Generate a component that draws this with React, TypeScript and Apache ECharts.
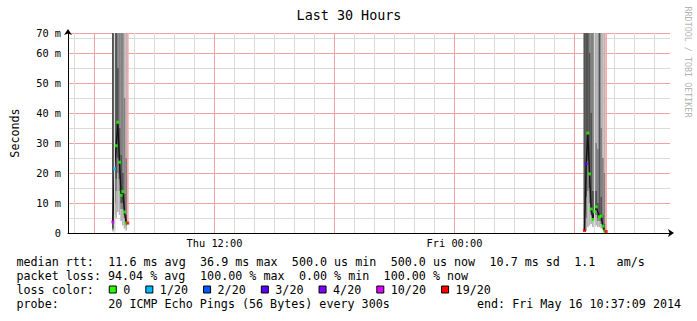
import React, { useEffect, useRef } from "react";
import * as echarts from "echarts";

const MONO = "'DejaVu Sans Mono', monospace";

const titleText = "Last 30 Hours";
const yAxisName = "Seconds";
const watermarkText = "RRDTOOL / TOBI OETIKER";

// time axis window
const axisStart = "Thu 04:40:30";
const axisEnd = "Fri 10:46:30";
const xLabelTimes = ["Thu 12:00", "Fri 00:00"];
const majorEveryHours = 6;

// y axis (milliseconds)
const yAxisMax = 66.67;
const yTickValues = [0, 10, 20, 30, 40, 50, 60, 66.67];
const yTickLabels = ["0", "10 m", "20 m", "30 m", "40 m", "50 m", "60 m", "70 m"];
const yMinorStep = 5;

// first burst (Thu morning)
const spike1Times = ["Thu 06:55", "Thu 07:00", "Thu 07:05", "Thu 07:10", "Thu 07:15", "Thu 07:20", "Thu 07:25", "Thu 07:30", "Thu 07:35", "Thu 07:40"];
const spike1Median = [3.7, 21.4, 29.1, 36.9, 23.6, 12.6, 13.8, 7.0, 3.3, 3.3];
const spike1Loss = [10, 1, 0, 0, 0, 0, 0, 0, 0, 19];
const spike1OuterLo = [0.5, 0.6, 5, 7, 6, 4, 2.5, 1.5, 0.8, null];
const spike1OuterHi = [140, 135, 130, 125, 120, 110, 100, 95, 90, null];
const spike1MidLo = [1.2, 6, 14, 20, 14, 8, 8, 5, 2.5, null];
const spike1MidHi = [130, 120, 110, 100, 95, 85, 80, 45, 25, null];
const spike1CoreLo = [1.5, 10, 18, 25, 18, 10, 10, 6, 3, null];
const spike1CoreHi = [120, 110, 100, 55, 35, 26, 20, 13, 6, null];

// second burst (Fri morning)
const spike2Times = ["Fri 06:30", "Fri 06:35", "Fri 06:40", "Fri 06:45", "Fri 06:50", "Fri 06:55", "Fri 07:00", "Fri 07:05", "Fri 07:10", "Fri 07:15", "Fri 07:20", "Fri 07:25", "Fri 07:30", "Fri 07:35"];
const spike2Median = [0.8, 23.1, 33.3, 19.7, 8.0, 4.5, 7.2, 8.7, null, 5.4, 5.6, 2.3, 0.6, 0.5];
const spike2Loss = [19, 3, 0, 0, 0, 0, 0, 0, null, 0, 0, 0, 0, 19];
const spike2OuterLo = [0.5, 0.6, 2, 2.5, 3, 2, 2, 2.5, 2, 2, 1.5, 1, 0.5, null];
const spike2OuterHi = [140, 135, 130, 125, 120, 115, 110, 105, 100, 100, 95, 90, 85, null];
const spike2MidLo = [0.6, 5, 14, 10, 6, 4, 5, 6, 4, 4, 3, 2, 0.8, null];
const spike2MidHi = [130, 125, 120, 110, 100, 90, 85, 30, 28, 90, 35, 25, 20, null];
const spike2CoreLo = [0.7, 12, 24, 15, 7, 4.5, 6, 7.5, 5, 5, 4, 2, 0.6, null];
const spike2CoreHi = [120, 110, 100, 60, 40, 14, 14, 14, 10, 70, 12, 6, 3, null];

// light red full-height stripes
const stripeTimes = ["Thu 07:40", "Fri 07:35"];
const stripeLo = [3.3, 0.5];
const stripeHi = [140, 140];

// loss colours
const lossLabels = ["0", "1/20", "2/20", "3/20", "4/20", "10/20", "19/20"];
const lossCounts = [0, 1, 2, 3, 4, 10, 19];
const lossColors = ["#26ff00", "#00b8ff", "#0059ff", "#5e00ff", "#7e00ff", "#dd00ff", "#ff0000"];

// legend texts
const legendRtt = "median rtt:  11.6 ms avg  36.9 ms max  500.0 us min  500.0 us now  10.7 ms sd  1.1   am/s";
const legendLoss = "packet loss: 94.04 % avg  100.00 % max  0.00 % min  100.00 % now";
const legendLossTitle = "loss color:";
const legendProbe = "probe:       20 ICMP Echo Pings (56 Bytes) every 300s";
const legendEnd = "end: Fri May 16 10:37:09 2014";

const DAY_OFFSET: Record<string, number> = { Thu: 0, Fri: 24 };
function toHours(s: string): number {
  const [d, hms] = s.split(" ");
  const parts = hms.split(":").map(Number);
  return DAY_OFFSET[d] + parts[0] + parts[1] / 60 + (parts[2] || 0) / 3600;
}

const STEP = 5 / 60;
const MAJOR_COLOR = "#f4a0a0";
const MINOR_COLOR = "#dadada";
const CHAR_W = 7.06;
const LEG_FONT = 11.7;
const AXIS_FONT = 10.3;

function bandData(times: string[], lo: (number | null)[], hi: (number | null)[]) {
  const out: number[][] = [];
  times.forEach((t, i) => {
    if (lo[i] == null || hi[i] == null) return;
    out.push([toHours(t), lo[i] as number, hi[i] as number]);
  });
  return out;
}

function bandLayer(name: string, data: number[][], color: string, z: number) {
  return {
    type: "custom",
    name,
    z,
    silent: true,
    clip: true,
    data,
    encode: { x: 0, y: [1, 2] },
    renderItem: (_p: any, api: any) => {
      const t = api.value(0) as number;
      const lo = Math.max(0, api.value(1) as number);
      const hi = Math.min(yAxisMax, api.value(2) as number);
      const a = api.coord([t - STEP / 2, hi]);
      const b = api.coord([t + STEP / 2, lo]);
      return {
        type: "rect",
        shape: { x: a[0], y: a[1], width: b[0] - a[0], height: b[1] - a[1] },
        style: { fill: color },
      };
    },
  };
}

function lossBucket(loss: number): number {
  for (let i = 0; i < lossCounts.length; i++) if (loss <= lossCounts[i]) return i;
  return lossCounts.length - 1;
}

function medianLine(times: string[], med: (number | null)[]) {
  const data: number[][] = [];
  times.forEach((t, i) => {
    if (med[i] != null) data.push([toHours(t), med[i] as number]);
  });
  return {
    type: "line",
    z: 4,
    silent: true,
    data,
    symbol: "none",
    showSymbol: false,
    lineStyle: { color: "#141414", width: 1.4 },
  };
}

function textRow(str: string, x0: number, y: number) {
  const els: any[] = [];
  const re = /\S+(?: \S+)*/g;
  let m: RegExpExecArray | null;
  while ((m = re.exec(str))) {
    els.push({
      type: "text",
      x: x0 + m.index * CHAR_W,
      y,
      style: { text: m[0], font: `${LEG_FONT}px ${MONO}`, fill: "#000", align: "left", verticalAlign: "middle" },
    });
  }
  return els;
}

function buildOption(): any {
  const tStart = toHours(axisStart);
  const tEnd = toHours(axisEnd);

  const hourLines: number[] = [];
  for (let h = Math.ceil(tStart); h <= Math.floor(tEnd); h++) hourLines.push(h);

  const yColors: string[] = [];
  for (let v = 0; v <= yAxisMax; v += yMinorStep) yColors.push(v % 10 === 0 ? MAJOR_COLOR : MINOR_COLOR);
  yColors.push(MAJOR_COLOR);

  const xLabelHours = xLabelTimes.map(toHours);

  const scatterSeries = lossLabels.map((lab, bi) => {
    const data: number[][] = [];
    [
      [spike1Times, spike1Median, spike1Loss],
      [spike2Times, spike2Median, spike2Loss],
    ].forEach(([times, med, loss]: any) => {
      times.forEach((t: string, i: number) => {
        if (med[i] == null || loss[i] == null) return;
        if (lossBucket(loss[i]) === bi) data.push([toHours(t), med[i]]);
      });
    });
    return {
      type: "scatter",
      name: lab,
      z: 5,
      silent: true,
      data,
      symbol: "rect",
      symbolSize: [3, 3],
      itemStyle: { color: lossColors[bi] },
    };
  });

  const graphics: any[] = [];
  graphics.push({
    type: "text",
    x: 349,
    y: 15.5,
    style: { text: titleText, font: `13.4px ${MONO}`, fill: "#000", align: "center", verticalAlign: "middle" },
  });
  graphics.push({
    type: "text",
    x: 687.5,
    y: 62,
    rotation: -Math.PI / 2,
    style: { text: watermarkText, font: `8.4px ${MONO}`, fill: "#b4b4b4", align: "center", verticalAlign: "middle" },
  });
  const X0 = 16.5;
  graphics.push(...textRow(legendRtt, X0, 261.5));
  graphics.push(...textRow(legendLoss, X0, 275.5));
  graphics.push(...textRow(legendLossTitle, X0, 289.5));
  graphics.push(...textRow(legendProbe, X0, 303.5));
  graphics.push({
    type: "text",
    x: 477,
    y: 303.5,
    style: { text: legendEnd, font: `${LEG_FONT}px ${MONO}`, fill: "#000", align: "left", verticalAlign: "middle" },
  });
  let sx = X0 + 13 * CHAR_W + 1;
  lossLabels.forEach((lab, i) => {
    graphics.push({
      type: "rect",
      shape: { x: sx, y: 286, width: 7, height: 7 },
      style: { fill: lossColors[i], stroke: "#000", lineWidth: 1 },
    });
    const lx = sx + 14;
    graphics.push({
      type: "text",
      x: lx,
      y: 289.5,
      style: { text: lab, font: `${LEG_FONT}px ${MONO}`, fill: "#000", align: "left", verticalAlign: "middle" },
    });
    sx = lx + lab.length * CHAR_W + 15.5;
  });

  return {
    animation: false,
    backgroundColor: "#ffffff",
    textStyle: { fontFamily: MONO },
    grid: { left: 68, right: 27, top: 33, bottom: 88, containLabel: false, outerBoundsMode: "none" },
    xAxis: {
      type: "value",
      min: tStart,
      max: tEnd,
      axisLine: {
        show: true,
        onZero: false,
        lineStyle: { color: "#000", width: 1 },
        symbol: ["none", "arrow"],
        symbolSize: [6, 6],
        symbolOffset: [0, 4],
      },
      axisTick: { show: false },
      splitLine: { show: false },
      axisLabel: {
        show: true,
        customValues: xLabelHours,
        formatter: (v: number) => {
          const i = xLabelHours.findIndex((h) => Math.abs(h - v) < 1e-6);
          return i >= 0 ? xLabelTimes[i] : "";
        },
        color: "#000",
        fontFamily: MONO,
        fontSize: AXIS_FONT,
        margin: 5,
      },
    },
    yAxis: {
      type: "value",
      min: 0,
      max: yAxisMax,
      interval: yMinorStep,
      name: yAxisName,
      nameLocation: "middle",
      nameRotate: 90,
      nameGap: 47,
      nameTextStyle: { fontFamily: MONO, fontSize: LEG_FONT, color: "#000" },
      axisLine: {
        show: true,
        lineStyle: { color: "#000", width: 1 },
        symbol: ["none", "arrow"],
        symbolSize: [6, 6],
        symbolOffset: [0, 4],
      },
      axisTick: { show: false },
      axisLabel: {
        color: "#000",
        fontFamily: MONO,
        fontSize: AXIS_FONT,
        margin: 7,
        formatter: (v: number) => {
          const i = yTickValues.findIndex((t) => Math.abs(t - v) < 0.01);
          return i >= 0 ? yTickLabels[i] : "";
        },
      },
      splitLine: { show: true, lineStyle: { color: yColors, width: 1 } },
    },
    graphic: graphics,
    series: [
      {
        type: "line",
        z: 1,
        silent: true,
        data: [[tStart, 0]],
        symbol: "none",
        showSymbol: false,
        lineStyle: { opacity: 0 },
        markLine: {
          silent: true,
          animation: false,
          symbol: ["none", "none"],
          label: { show: false },
          lineStyle: { type: "solid", width: 1 },
          emphasis: { disabled: true },
          data: hourLines.map((h) => ({
            xAxis: h,
            lineStyle: { color: h % majorEveryHours === 0 ? MAJOR_COLOR : MINOR_COLOR, width: 1, type: "solid" },
          })),
        },
      },
      bandLayer("smoke outer 1", bandData(spike1Times, spike1OuterLo, spike1OuterHi), "#b6b6b6", 2),
      bandLayer("smoke mid 1", bandData(spike1Times, spike1MidLo, spike1MidHi), "#828282", 2),
      bandLayer("smoke core 1", bandData(spike1Times, spike1CoreLo, spike1CoreHi), "#535353", 2),
      bandLayer("smoke outer 2", bandData(spike2Times, spike2OuterLo, spike2OuterHi), "#b6b6b6", 2),
      bandLayer("smoke mid 2", bandData(spike2Times, spike2MidLo, spike2MidHi), "#828282", 2),
      bandLayer("smoke core 2", bandData(spike2Times, spike2CoreLo, spike2CoreHi), "#535353", 2),
      bandLayer("loss stripe", bandData(stripeTimes, stripeLo, stripeHi), "#ffa3a3", 3),
      medianLine(spike1Times, spike1Median),
      medianLine(spike2Times, spike2Median),
      ...scatterSeries,
    ],
  };
}

export default function App() {
  const ref = useRef<HTMLDivElement>(null);
  useEffect(() => {
    if (!ref.current) return;
    const chart = echarts.init(ref.current, null, { renderer: "svg" });
    chart.setOption(buildOption());
    return () => chart.dispose();
  }, []);
  return (
    <div
      ref={ref}
      style={{ position: "fixed", left: 0, top: 0, width: 697, height: 321, background: "#fff" }}
    />
  );
}
